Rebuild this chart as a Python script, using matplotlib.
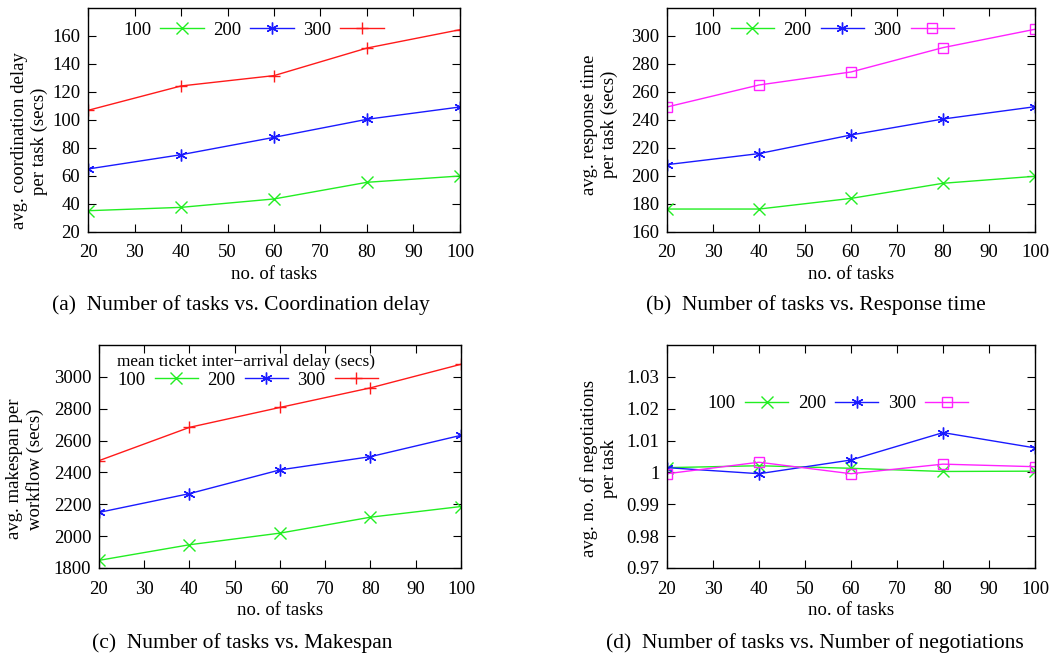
import matplotlib
matplotlib.use("Agg")
import matplotlib.pyplot as plt

plt.rcParams['font.family'] = ['Liberation Serif', 'DejaVu Serif']

tasks = [20, 40, 60, 80, 100]
series_labels = ["100", "200", "300"]

# (a) coordination delay
coord_100 = [35.2, 37.6, 43.6, 55.5, 60.0]
coord_200 = [65.0, 75.2, 87.6, 100.5, 109.3]
coord_300 = [106.9, 124.3, 131.7, 151.4, 164.5]

# (b) response time
resp_100 = [176.4, 176.4, 184.0, 194.8, 199.8]
resp_200 = [208.1, 216.0, 229.3, 240.7, 249.5]
resp_300 = [249.3, 265.0, 274.3, 291.7, 304.8]

# (c) makespan
mks_100 = [1848, 1946, 2019, 2119, 2186]
mks_200 = [2149, 2267, 2416, 2499, 2633]
mks_300 = [2474, 2683, 2808, 2931, 3079]

# (d) negotiations
neg_100 = [1.0015, 1.0021, 1.0013, 1.0003, 1.0004]
neg_200 = [1.0015, 0.9996, 1.0039, 1.0125, 1.0077]
neg_300 = [0.9996, 1.0032, 0.9996, 1.0026, 1.0018]

x_ticks = [20, 30, 40, 50, 60, 70, 80, 90, 100]

GREEN = '#22ee22'
BLUE = '#1a1aff'
RED = '#ff1a1a'
MAGENTA = '#ff22ff'

FS = 13.5      # plot text
CFS = 15.5     # captions

fig = plt.figure(figsize=(10.6, 6.58), dpi=100)

def px_axes(l, r, t, b):
    W, H = 1060, 658
    return fig.add_axes([l / W, 1 - b / H, (r - l) / W, (b - t) / H])

ax_a = px_axes(88, 460, 8, 232)
ax_b = px_axes(667, 1035, 8, 232)
ax_c = px_axes(99, 461, 345, 568)
ax_d = px_axes(667, 1035, 345, 568)

def style(ax, ylim, yticks, ylabel, lab_xy, yfmt=None):
    ax.set_xlim(20, 100)
    ax.set_ylim(*ylim)
    ax.set_xticks(x_ticks)
    ax.set_yticks(yticks)
    if yfmt:
        ax.set_yticklabels([yfmt(v) for v in yticks])
    ax.tick_params(direction='in', length=6, width=0.8, labelsize=FS,
                   top=True, right=True)
    ax.tick_params(axis='x', pad=9)
    ax.tick_params(axis='y', pad=5.5)
    for s in ax.spines.values():
        s.set_linewidth(1.0)
    ax.set_xlabel("no. of tasks", fontsize=FS, labelpad=3)
    ax.set_ylabel(ylabel, fontsize=FS, linespacing=1.2)
    ax.yaxis.set_label_coords(*lab_xy)

def draw(ax, y1, y2, y3, c3, m3, ms3):
    ax.plot(tasks, y1, color=GREEN, marker='x', ms=8, mew=1.0, lw=1.0, label=series_labels[0])
    ax.plot(tasks, y2, color=BLUE, marker=(6, 2, 0), ms=8.5, mew=1.0, lw=1.0, label=series_labels[1])
    ax.plot(tasks, y3, color=c3, marker=m3, ms=ms3, mew=1.0, lw=1.0, label=series_labels[2],
            mfc='none')

def legend(ax, x, y, title=None):
    leg = ax.legend(loc='upper left', bbox_to_anchor=(x, y), ncol=3, markerfirst=False,
                    frameon=False, fontsize=FS, handlelength=2.3, handletextpad=0.5,
                    columnspacing=0.5, borderaxespad=0, borderpad=0, title=title,
                    labelspacing=0.1, title_fontsize=12.4, alignment='left')
    return leg

draw(ax_a, coord_100, coord_200, coord_300, RED, '+', 9)
style(ax_a, (20, 180), [20, 40, 60, 80, 100, 120, 140, 160],
      "avg. coordination delay\nper task (secs)", (-0.1075, 0.406))
legend(ax_a, 0.094, 0.94)

draw(ax_b, resp_100, resp_200, resp_300, MAGENTA, 's', 7.5)
style(ax_b, (160, 320), [160, 180, 200, 220, 240, 260, 280, 300],
      "avg. response time\nper task (secs)", (-0.133, 0.48))
legend(ax_b, 0.071, 0.94)

draw(ax_c, mks_100, mks_200, mks_300, RED, '+', 9)
style(ax_c, (1800, 3200), [1800, 2000, 2200, 2400, 2600, 2800, 3000],
      "avg. makespan per\nworkflow (secs)", (-0.152, 0.444))
legend(ax_c, 0.05, 0.96, title="mean ticket inter\u2212arrival delay (secs)")

draw(ax_d, neg_100, neg_200, neg_300, MAGENTA, 's', 7.5)
style(ax_d, (0.97, 1.04), [0.97, 0.98, 0.99, 1.00, 1.01, 1.02, 1.03],
      "avg. no. of negotiations\nper task", (-0.133, 0.444),
      yfmt=lambda v: ("%g" % round(v, 2)))
legend(ax_d, 0.111, 0.775)

fig.text(241 / 1060, 1 - 305 / 658, "(a)  Number of tasks vs. Coordination delay",
         ha='center', va='center', fontsize=CFS)
fig.text(816 / 1060, 1 - 305 / 658, "(b)  Number of tasks vs. Response time",
         ha='center', va='center', fontsize=CFS)
fig.text(242 / 1060, 1 - 643 / 658, "(c)  Number of tasks vs. Makespan",
         ha='center', va='center', fontsize=CFS)
fig.text(815 / 1060, 1 - 643 / 658, "(d)  Number of tasks vs. Number of negotiations",
         ha='center', va='center', fontsize=CFS)

fig.savefig("out.png", dpi=100)
